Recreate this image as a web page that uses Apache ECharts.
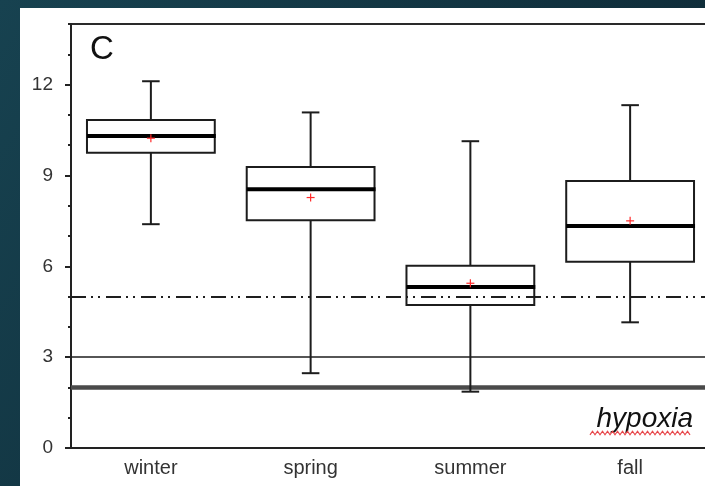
<!DOCTYPE html>
<html><head><meta charset="utf-8">
<style>html,body{margin:0;padding:0;background:#10303c}#c{width:705px;height:486px}</style>
<script src="https://cdn.jsdelivr.net/npm/echarts@6/dist/echarts.min.js"></script>
</head><body><div id="c"></div>
<script>
// ---- data ----
const categories = ['winter', 'spring', 'summer', 'fall'];
const whiskerLow  = [7.39, 2.47, 1.86, 4.15];
const q1          = [9.75, 7.52, 4.72, 6.15];
const median      = [10.30, 8.54, 5.32, 7.33];
const q3          = [10.83, 9.28, 6.02, 8.82];
const whiskerHigh = [12.11, 11.08, 10.13, 11.32];
const means       = [10.23, 8.27, 5.44, 7.50];
const yTickLabels = [0, 3, 6, 9, 12];
const yMinorTicks = [0, 1, 2, 3, 4, 5, 6, 7, 8, 9, 10, 11, 12, 13, 14];
const dashDotLevel = [5];
const solidLevel = [3];
const hypoxiaLevel = [2];

const FONT = 'Liberation Sans, Arial, Helvetica, sans-serif';
const chart = echarts.init(document.getElementById('c'), null, {renderer: 'canvas'});

const boxData = categories.map((c, i) => [i, whiskerLow[i], q1[i], median[i], q3[i], whiskerHigh[i], means[i]]);

function renderBox(params, api) {
  const idx = api.value(0);
  const band = api.size([1, 0])[0];
  const bw = band * 0.8, cw = band * 0.11;
  const pLow = api.coord([idx, api.value(1)]);
  const pQ1 = api.coord([idx, api.value(2)]);
  const pMed = api.coord([idx, api.value(3)]);
  const pQ3 = api.coord([idx, api.value(4)]);
  const pHigh = api.coord([idx, api.value(5)]);
  const pMean = api.coord([idx, api.value(6)]);
  const x = pMed[0];
  const ink = '#1c1c1c';
  const ls = {stroke: ink, lineWidth: 2, fill: null};
  const L = (x1, y1, x2, y2, st) => ({type: 'line', shape: {x1, y1, x2, y2}, style: st});
  return {
    type: 'group',
    children: [
      L(x, pHigh[1], x, pQ3[1], ls),
      L(x, pQ1[1], x, pLow[1], ls),
      L(x - cw / 2, pHigh[1], x + cw / 2, pHigh[1], ls),
      L(x - cw / 2, pLow[1], x + cw / 2, pLow[1], ls),
      {type: 'rect', shape: {x: x - bw / 2, y: pQ3[1], width: bw, height: pQ1[1] - pQ3[1]},
       style: {fill: 'transparent', stroke: ink, lineWidth: 2}},
      L(x - bw / 2, pMed[1], x + bw / 2 + 1, pMed[1], {stroke: '#000', lineWidth: 4}),
      L(x - 4, pMean[1], x + 4, pMean[1], {stroke: '#ff2a2a', lineWidth: 1.2}),
      L(x, pMean[1] - 4, x, pMean[1] + 4, {stroke: '#ff2a2a', lineWidth: 1.2})
    ]
  };
}

// wavy spell-check underline under "hypoxia"
const wave = [];
for (let k = 0; k <= 40; k++) wave.push([590 + k * 2.5, 433 + (k % 2 ? -1.8 : 1.8)]);

chart.setOption({
  backgroundColor: {type: 'linear', x: 0, y: 0, x2: 1, y2: 1,
    colorStops: [{offset: 0, color: '#174250'}, {offset: 1, color: '#0c2430'}]},
  animation: false,
  grid: {left: 71, top: 24, width: 639, height: 424, show: true, outerBoundsMode: 'none',
         containLabel: false,
         borderColor: '#2a2a2a', borderWidth: 2, backgroundColor: 'transparent'},
  graphic: [
    {type: 'rect', z: -100, shape: {x: 20, y: 8, width: 700, height: 490}, style: {fill: '#ffffff'}},
    {type: 'text', left: 90, top: 33, style: {text: 'C', font: '33px ' + FONT, fill: '#111'}},
    {type: 'text', x: 693, y: 419, style: {text: 'hypoxia', font: 'italic 28px ' + FONT, fill: '#111',
      textAlign: 'right', textVerticalAlign: 'middle'}},
    {type: 'polyline', shape: {points: wave}, style: {stroke: '#e8464a', lineWidth: 1.2, fill: null}}
  ],
  xAxis: {
    type: 'category', data: categories, boundaryGap: true,
    axisLine: {lineStyle: {color: '#222', width: 2}},
    axisTick: {alignWithLabel: true, length: 6, lineStyle: {color: '#222', width: 2}},
    axisLabel: {fontSize: 20, color: '#333', margin: 10, fontFamily: FONT},
    splitLine: {show: false}
  },
  yAxis: [
    {type: 'value', min: 0, max: 14, interval: 1,
     axisLine: {show: true, lineStyle: {color: '#222', width: 2}},
     axisTick: {show: true, length: 3, customValues: yMinorTicks, lineStyle: {color: '#222', width: 2}},
     axisLabel: {show: false}, splitLine: {show: false}},
    {type: 'value', min: 0, max: 14, interval: 1, position: 'left',
     axisLine: {show: false},
     axisTick: {show: true, length: 6, customValues: yTickLabels, lineStyle: {color: '#222', width: 2}},
     axisLabel: {show: true, customValues: yTickLabels, fontSize: 19, color: '#333', margin: 18, fontFamily: FONT},
     splitLine: {show: false}}
  ],
  series: [{
    type: 'custom', renderItem: renderBox, data: boxData, xAxisIndex: 0, yAxisIndex: 0,
    encode: {x: 0, y: [1, 2, 3, 4, 5]}, z: 5,
    markLine: {
      silent: true, symbol: 'none', label: {show: false}, z: 3,
      data: [
        {yAxis: dashDotLevel[0], lineStyle: {color: '#1e1e1e', width: 1.8, type: [15, 5, 2, 5, 2, 6]}},
        {yAxis: solidLevel[0], lineStyle: {color: '#1e1e1e', width: 1.5, type: 'solid'}},
        {yAxis: hypoxiaLevel[0], lineStyle: {color: '#4a4a4a', width: 4.5, type: 'solid'}}
      ]
    }
  }]
});
</script></body></html>
